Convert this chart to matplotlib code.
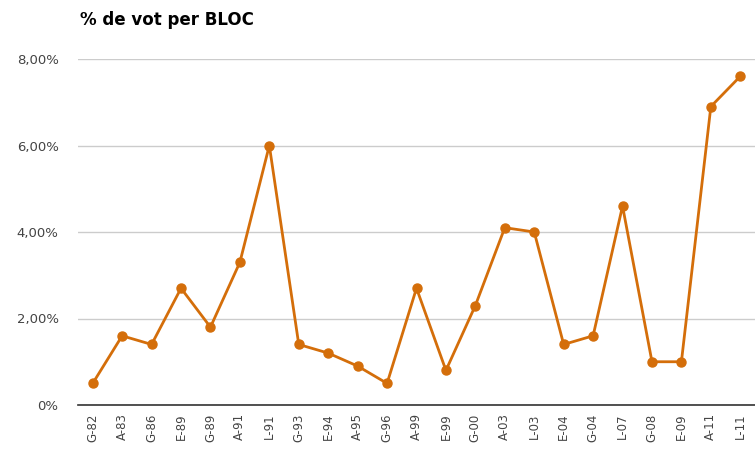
import matplotlib.pyplot as plt

labels = ["G-82", "A-83", "G-86", "E-89", "G-89", "A-91", "L-91", "G-93", "E-94",
          "A-95", "G-96", "A-99", "E-99", "G-00", "A-03", "L-03", "E-04", "G-04",
          "L-07", "G-08", "E-09", "A-11", "L-11"]
values = [0.5, 1.6, 1.4, 2.7, 1.8, 3.3, 6.0, 1.4, 1.2, 0.9, 0.5, 2.7, 0.8, 2.3,
          4.1, 4.0, 1.4, 1.6, 4.6, 1.0, 1.0, 6.9, 7.6]
yticks = [0, 2, 4, 6, 8]
ytick_labels = ["0%", "2,00%", "4,00%", "6,00%", "8,00%"]

fig = plt.figure(figsize=(7.55, 4.5), dpi=100)
ax = fig.add_axes([78 / 755, 45 / 450, 1 - 78 / 755, (405 - 59) / 450])

x = range(len(labels))
ax.plot(x, values, color="#d46e0a", lw=2, marker="o", ms=6.5, clip_on=False, zorder=3)

ax.set_xlim(-0.5, len(labels) - 0.5)
ax.set_ylim(0, 8)
ax.set_yticks(yticks)
ax.set_yticklabels(ytick_labels)
ax.set_xticks(list(x))
ax.set_xticklabels(labels, rotation=90)
ax.grid(axis="y", color="#cccccc", lw=1)
ax.set_axisbelow(True)
for s in ["top", "right", "left"]:
    ax.spines[s].set_visible(False)
ax.spines["bottom"].set_color("#333333")
ax.spines["bottom"].set_linewidth(1.2)
ax.tick_params(length=0, labelsize=8.5, labelcolor="#444444")
ax.tick_params(axis="y", pad=14, labelsize=9.5)
ax.tick_params(axis="x", pad=6)

fig.text(80 / 755, 1 - 20 / 450, "% de vot per BLOC", fontsize=12, fontweight="bold",
         va="center", ha="left")

fig.savefig("out.png", dpi=100)
